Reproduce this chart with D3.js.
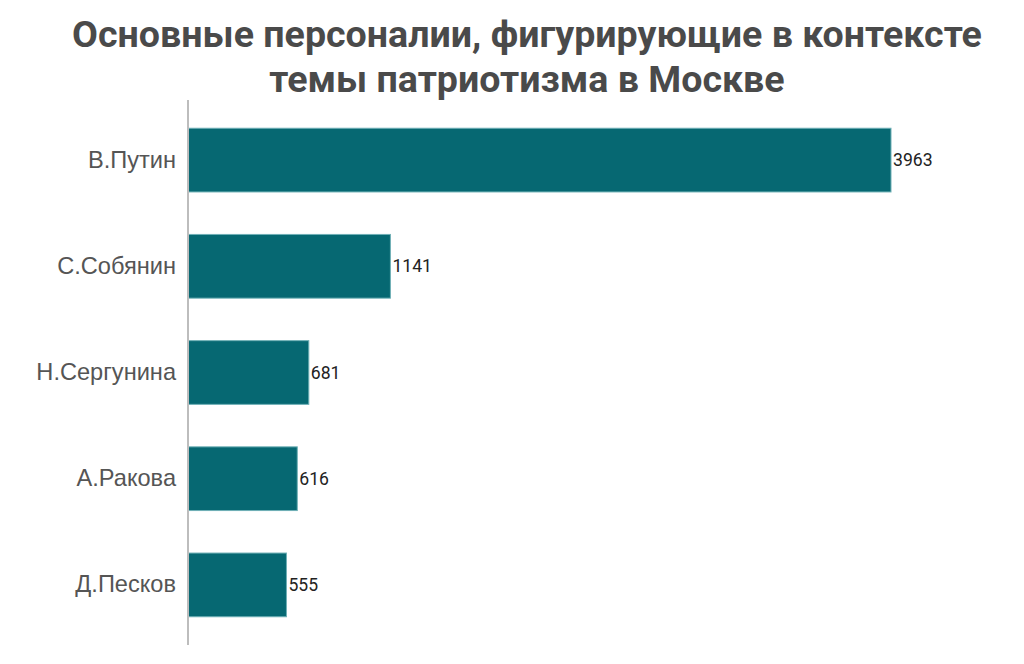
<!DOCTYPE html>
<html lang="ru">
<head>
    <meta charset="UTF-8">
    <title>Персоналии</title>
    <script src="https://cdn.jsdelivr.net/npm/d3@7"></script>
    <style>
        body{
            margin: 0;
            background: #fff;
        }
        svg{
            display: block;
            font-family: Roboto, sans-serif;
        }
        .title{
            font-weight: bold;
            font-size: 37.6px;
            fill: #4a4a4a;
        }
        .cat{
            font-size: 23.6px;
            fill: #555;
        }
        .val{
            font-size: 17.6px;
            fill: #222;
        }
    </style>
</head>
<body>
<svg></svg>
<script>
    const width = 1024;
    const height = 664;

    // data
    const names = ["В.Путин", "С.Собянин", "Н.Сергунина", "А.Ракова", "Д.Песков"];
    const counts = [3963, 1141, 681, 616, 555];
    const titleLines = ["Основные персоналии, фигурирующие в контексте", "темы патриотизма в Москве"];

    const svg = d3.select("svg")
        .attr("width", width)
        .attr("height", height);

    // title
    svg.selectAll(".title")
        .data(titleLines)
        .enter()
        .append("text")
        .attr("class", "title")
        .attr("x", 527)
        .attr("y", (d, i) => 47 + i * 45)
        .attr("text-anchor", "middle")
        .text(d => d);

    const x = d3.scaleLinear()
        .domain([0, d3.max(counts)])
        .range([188, 891]);

    const y = d3.scaleBand()
        .domain(names)
        .range([107, 638])
        .paddingInner(0.4)
        .paddingOuter(0.2);

    // bars
    svg.append("g")
        .selectAll("rect")
        .data(names)
        .enter()
        .append("rect")
        .attr("x", x(0))
        .attr("y", d => y(d))
        .attr("width", (d, i) => x(counts[i]) - x(0))
        .attr("height", y.bandwidth())
        .attr("fill", "#066872")
        .attr("stroke", "#6fb0b6")
        .attr("stroke-width", 1);

    // value labels
    svg.append("g")
        .selectAll("text")
        .data(names)
        .enter()
        .append("text")
        .attr("class", "val")
        .attr("x", (d, i) => x(counts[i]) + 2)
        .attr("y", d => y(d) + y.bandwidth() / 2)
        .attr("dy", "0.35em")
        .text((d, i) => counts[i]);

    // category axis
    const axis = svg.append("g")
        .attr("transform", `translate(${x(0)},0)`)
        .call(d3.axisLeft(y).tickSize(0).tickPadding(12));
    axis.select(".domain").remove();
    axis.selectAll("text")
        .attr("class", "cat")
        .attr("font-size", null)
        .attr("font-family", null)
        .attr("fill", null);

    svg.append("line")
        .attr("x1", x(0)).attr("x2", x(0))
        .attr("y1", 100).attr("y2", 645)
        .attr("stroke", "#bdbdbd")
        .attr("stroke-width", 2);
</script>
</body>
</html>
